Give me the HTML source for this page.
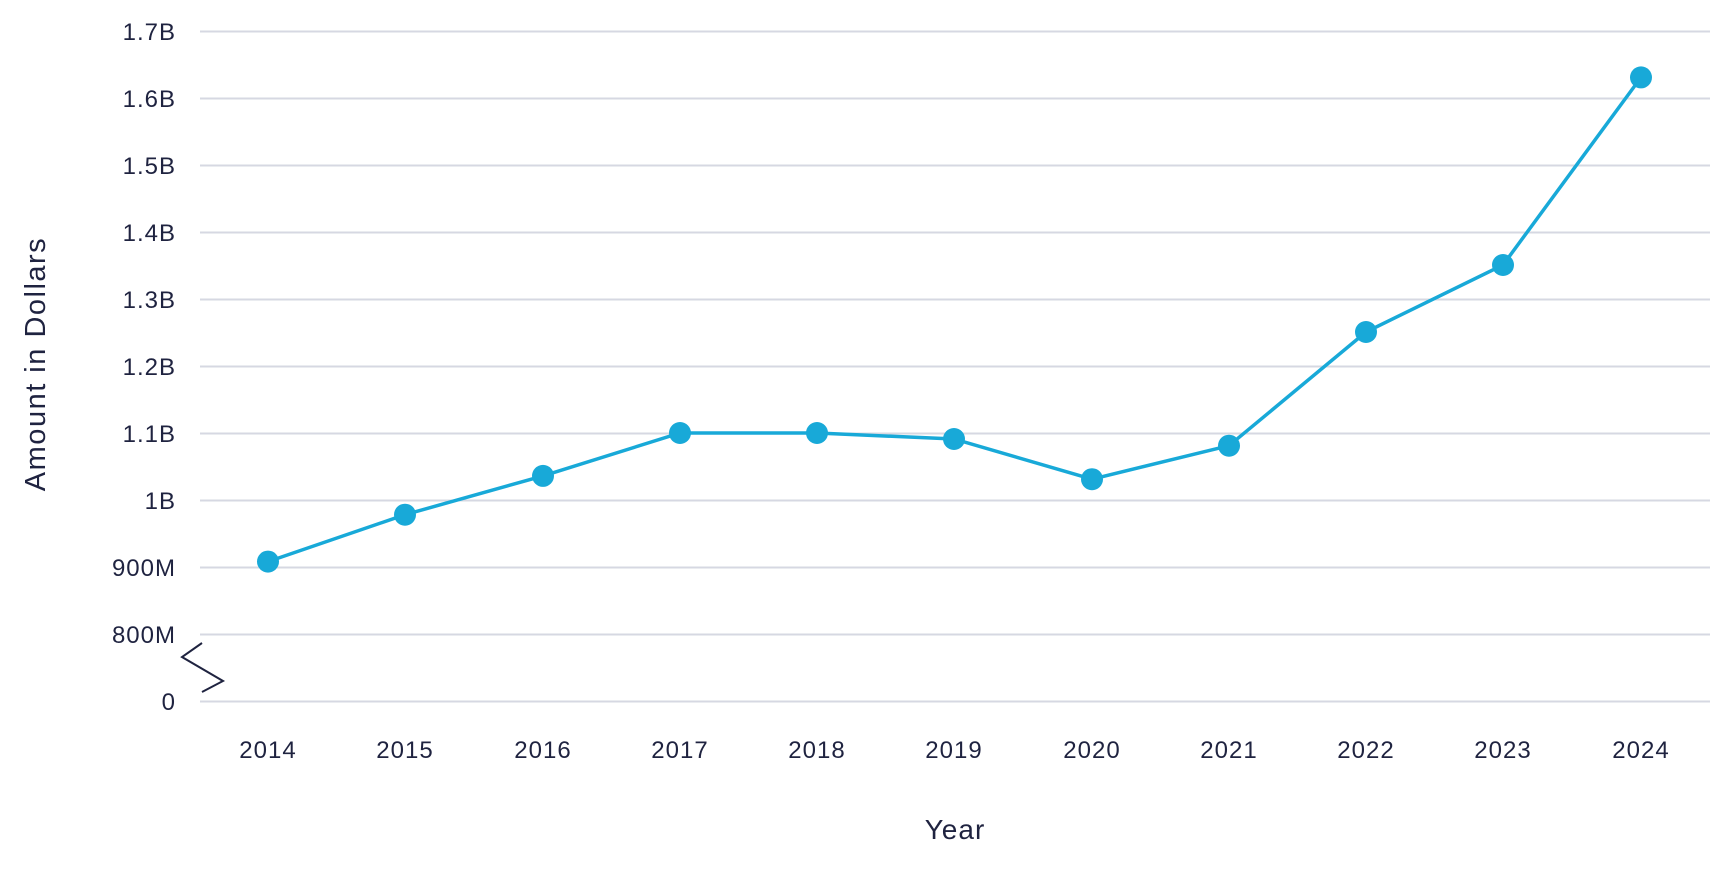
<!DOCTYPE html>
<html><head><style>
body{margin:0;background:#fff;}
text{font-family:"Liberation Sans",sans-serif;fill:#1f2340;}
</style></head><body>
<svg width="1729" height="865" viewBox="0 0 1729 865" xmlns="http://www.w3.org/2000/svg">
<g stroke="#d6d8e2" stroke-width="2">
<line x1="200" x2="1710" y1="31.5" y2="31.5"/>
<line x1="200" x2="1710" y1="98.5" y2="98.5"/>
<line x1="200" x2="1710" y1="165.5" y2="165.5"/>
<line x1="200" x2="1710" y1="232.5" y2="232.5"/>
<line x1="200" x2="1710" y1="299.5" y2="299.5"/>
<line x1="200" x2="1710" y1="366.5" y2="366.5"/>
<line x1="200" x2="1710" y1="433.5" y2="433.5"/>
<line x1="200" x2="1710" y1="500.5" y2="500.5"/>
<line x1="200" x2="1710" y1="567.5" y2="567.5"/>
<line x1="200" x2="1710" y1="634.5" y2="634.5"/>
<line x1="200" x2="1710" y1="701.5" y2="701.5"/>
</g>
<g font-size="24" text-anchor="end" letter-spacing="1">
<text x="176" y="40">1.7B</text>
<text x="176" y="107">1.6B</text>
<text x="176" y="174">1.5B</text>
<text x="176" y="241">1.4B</text>
<text x="176" y="308">1.3B</text>
<text x="176" y="375">1.2B</text>
<text x="176" y="442">1.1B</text>
<text x="176" y="509">1B</text>
<text x="176" y="576">900M</text>
<text x="176" y="643">800M</text>
<text x="176" y="710">0</text>
</g>
<polyline points="202,643 182,657 223,681 202,692" fill="none" stroke="#1f2340" stroke-width="2"/>
<g font-size="24" text-anchor="middle" letter-spacing="1">
<text x="268" y="758">2014</text>
<text x="405" y="758">2015</text>
<text x="543" y="758">2016</text>
<text x="680" y="758">2017</text>
<text x="817" y="758">2018</text>
<text x="954" y="758">2019</text>
<text x="1092" y="758">2020</text>
<text x="1229" y="758">2021</text>
<text x="1366" y="758">2022</text>
<text x="1503" y="758">2023</text>
<text x="1641" y="758">2024</text>
</g>
<text x="955" y="839" font-size="28" text-anchor="middle" letter-spacing="1">Year</text>
<text transform="translate(45,364) rotate(-90)" font-size="29" text-anchor="middle" letter-spacing="1.5">Amount in Dollars</text>
<polyline fill="none" stroke="#18a9d8" stroke-width="3.5" points="268,561.6 405,514.7 543,475.9 680,433 817,433 954,439 1092,479.2 1229,445.7 1366,332 1503,265 1641,77.4"/>
<g fill="#18a9d8">
<circle cx="268" cy="561.6" r="11"/>
<circle cx="405" cy="514.7" r="11"/>
<circle cx="543" cy="475.9" r="11"/>
<circle cx="680" cy="433" r="11"/>
<circle cx="817" cy="433" r="11"/>
<circle cx="954" cy="439" r="11"/>
<circle cx="1092" cy="479.2" r="11"/>
<circle cx="1229" cy="445.7" r="11"/>
<circle cx="1366" cy="332" r="11"/>
<circle cx="1503" cy="265" r="11"/>
<circle cx="1641" cy="77.4" r="11"/>
</g>
</svg>
</body></html>
